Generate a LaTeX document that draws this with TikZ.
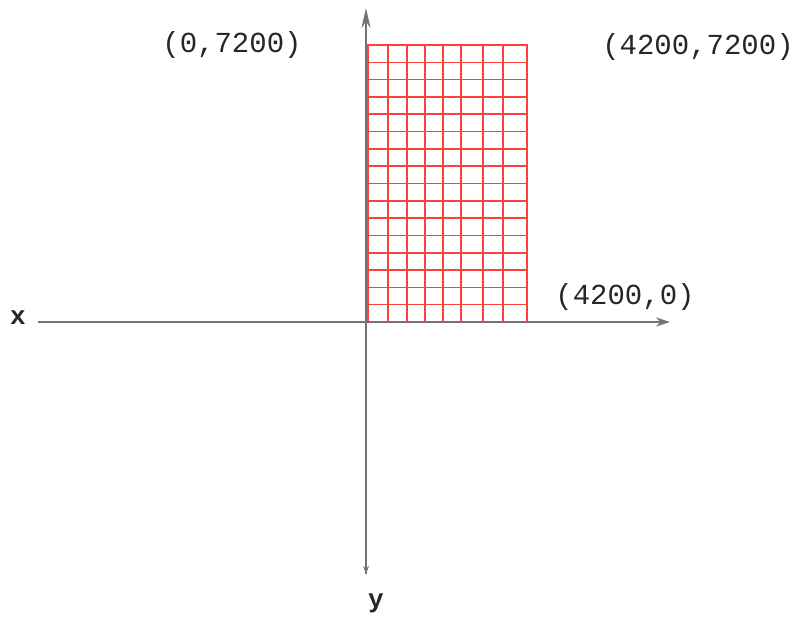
\documentclass[tikz,border=0pt]{standalone}
\usepackage{fontspec}
\setmonofont{Liberation Mono}
\usetikzlibrary{arrows.meta}
\begin{document}
\begin{tikzpicture}[x=1pt,y=-1pt,
  axisline/.style={draw=black!55,line width=2.2pt},
  gridline/.style={draw=red!75!white,line width=1.6pt},
  coordlabel/.style={font=\ttfamily\fontsize{29}{29}\selectfont,text=black!85,inner sep=0pt},
  axislabel/.style={font=\ttfamily\bfseries\fontsize{26}{26}\selectfont,text=black!85,inner sep=0pt}]
\useasboundingbox (0,0) rectangle (799,618);
% grid
\foreach \i in {0,...,16} {
  \draw[gridline] (367,{45+\i*17.3125}) -- (528,{45+\i*17.3125});
}
\foreach \xx in {368,388,407,425,443,461,483,503,527} {
  \draw[gridline] (\xx,45) -- (\xx,322);
}
% axes
\coordinate (xl) at (38,322);
\coordinate (xr) at (670,322);
\coordinate (yt) at (366,8);
\coordinate (yb) at (366,574);
\draw[axisline,-{Stealth[length=14pt,width=9pt]}] (xl) -- (xr);
\draw[axisline,-{Stealth[length=20pt,width=9pt]}] (yb) -- (yt);
\draw[axisline,-{Stealth[length=8pt,width=6pt]}] (366,540) -- (yb);
% labels
\node[axislabel] (xlab) at (18,318) {x};
\node[axislabel] (ylab) at (376,603) {y};
\node[coordlabel] (p1) at (232,45) {(0,7200)};
\node[coordlabel] (p2) at (698,47) {(4200,7200)};
\node[coordlabel] (p3) at (625,297) {(4200,0)};
\end{tikzpicture}
\end{document}
